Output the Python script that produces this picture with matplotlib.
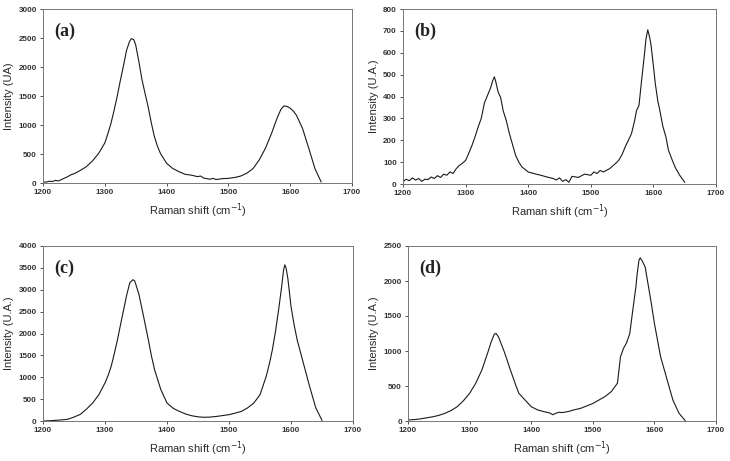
import matplotlib.pyplot as plt

plt.rcParams['font.family'] = ['Liberation Sans', 'DejaVu Sans']

# Raman spectra (x in cm-1, y in arbitrary units)
x_a = [1200, 1205, 1210, 1215, 1220, 1225, 1230, 1240, 1245, 1250, 1255, 1260, 1270,
       1280, 1290, 1300, 1305, 1310, 1315, 1320, 1325, 1330, 1335, 1340, 1343, 1347,
       1350, 1355, 1360, 1365, 1370, 1375, 1380, 1385, 1390, 1400, 1410, 1420, 1430,
       1440, 1450, 1455, 1460, 1470, 1475, 1480, 1490, 1500, 1510, 1520, 1530, 1540,
       1550, 1560, 1570, 1575, 1580, 1585, 1590, 1595, 1600, 1605, 1610, 1620, 1630,
       1640, 1650]
y_a = [20, 15, 30, 25, 45, 35, 60, 110, 140, 160, 185, 215, 280,
       380, 510, 690, 850, 1030, 1250, 1490, 1760, 2010, 2280, 2440, 2490, 2470,
       2380, 2100, 1790, 1550, 1320, 1050, 810, 640, 510, 340, 250, 195, 150,
       135, 110, 120, 85, 65, 80, 60, 75, 80, 95, 120, 170, 250,
       400, 600, 860, 1010, 1150, 1270, 1330, 1320, 1290, 1240, 1170, 940, 600,
       250, 20]

x_b = [1200, 1205, 1210, 1215, 1220, 1225, 1230, 1235, 1240, 1245, 1250, 1255, 1260,
       1265, 1270, 1275, 1280, 1285, 1290, 1295, 1300, 1305, 1310, 1315, 1320, 1325,
       1330, 1335, 1340, 1343, 1346, 1348, 1352, 1356, 1360, 1365, 1370, 1375, 1380,
       1385, 1390, 1400, 1410, 1420, 1430, 1440, 1445, 1450, 1455, 1460, 1465, 1470,
       1480, 1490, 1500, 1505, 1510, 1515, 1520, 1530, 1540, 1545, 1550, 1555, 1560,
       1565, 1570, 1573, 1577, 1581, 1586, 1588, 1591, 1594, 1596, 1600, 1603, 1607,
       1610, 1615, 1620, 1624, 1630, 1635, 1642, 1650]
y_b = [10, 22, 15, 28, 18, 25, 12, 22, 20, 32, 25, 38, 30,
       45, 40, 55, 48, 70, 85, 95, 108, 140, 175, 215, 260, 300,
       370, 405, 440, 470, 490, 470, 420, 395, 335, 290, 230, 180, 130,
       100, 78, 55, 47, 40, 32, 25, 18, 28, 12, 20, 8, 35,
       30, 45, 40, 55, 48, 62, 55, 70, 95, 110, 135, 170, 200,
       230, 290, 335, 360, 470, 600, 660, 705, 670, 640, 540, 460, 380,
       340, 265, 215, 155, 110, 75, 40, 8]

x_c = [1200, 1210, 1220, 1230, 1240, 1250, 1260, 1270, 1280, 1290, 1300, 1305, 1310,
       1315, 1320, 1325, 1330, 1335, 1340, 1345, 1348, 1350, 1355, 1360, 1365, 1370,
       1375, 1380, 1390, 1400, 1410, 1420, 1430, 1440, 1450, 1460, 1470, 1480, 1490,
       1500, 1510, 1520, 1530, 1540, 1550, 1560, 1565, 1570, 1575, 1580, 1585, 1588,
       1590, 1592, 1595, 1600, 1605, 1610, 1620, 1630, 1640, 1650]
y_c = [0, 5, 15, 25, 40, 90, 150, 270, 410, 600, 870, 1040, 1250,
       1540, 1850, 2200, 2540, 2880, 3160, 3230, 3200, 3110, 2880, 2540, 2200, 1850,
       1480, 1170, 720, 410, 290, 220, 160, 120, 95, 85, 90, 105, 125,
       145, 180, 220, 300, 410, 600, 1020, 1300, 1630, 2050, 2540, 3080, 3450,
       3570, 3500, 3250, 2620, 2200, 1850, 1320, 790, 300, 15]

x_d = [1200, 1210, 1220, 1230, 1240, 1250, 1260, 1270, 1280, 1290, 1300, 1310, 1320,
       1325, 1330, 1335, 1340, 1343, 1347, 1350, 1355, 1360, 1365, 1370, 1375, 1380,
       1390, 1400, 1410, 1420, 1430, 1435, 1440, 1445, 1450, 1460, 1470, 1480, 1490,
       1500, 1510, 1520, 1530, 1540, 1545, 1550, 1555, 1560, 1565, 1570, 1572, 1575,
       1577, 1580, 1585, 1590, 1595, 1600, 1610, 1620, 1630, 1640, 1650]
y_d = [15, 20, 30, 45, 60, 80, 110, 150, 205, 290, 395, 540, 730,
       860, 990, 1130, 1240, 1250, 1200, 1130, 1020, 895, 760, 635, 510, 395,
       300, 205, 160, 135, 115, 90, 110, 125, 120, 135, 160, 180, 215,
       250, 300, 350, 420, 540, 920, 1040, 1120, 1250, 1590, 1920, 2100, 2300,
       2330, 2290, 2200, 1940, 1680, 1395, 920, 610, 300, 110, 5]

panels = [
    ('(a)', x_a, y_a, 3000, 500, 'Intensity (UA)', [43, 9, 352, 183]),
    ('(b)', x_b, y_b, 800, 100, 'Intensity (U.A.)', [403, 9, 716, 184]),
    ('(c)', x_c, y_c, 4000, 500, 'Intensity (U.A.)', [43, 246, 353, 421]),
    ('(d)', x_d, y_d, 2500, 500, 'Intensity (U.A.)', [408, 246, 716, 421]),
]

W, H = 730, 461
fig = plt.figure(figsize=(W / 100, H / 100), dpi=100)

for tag, xs, ys, ymax, ystep, ylab, box in panels:
    l, t, r, b = box
    ax = fig.add_axes([l / W, (H - b) / H, (r - l) / W, (b - t) / H])
    ax.plot(xs, ys, color='#1a1a1a', linewidth=0.8)
    ax.set_xlim(1200, 1700)
    ax.set_ylim(0, ymax)
    ax.set_xticks(range(1200, 1701, 100))
    ax.set_yticks(range(0, ymax + 1, ystep))
    ax.tick_params(direction='out', length=2.5, width=0.6, labelsize=5.8,
                   pad=2, colors='#333333')
    for lbl in ax.get_xticklabels() + ax.get_yticklabels():
        lbl.set_fontweight('bold')
    for s in ax.spines.values():
        s.set_color('#777777')
        s.set_linewidth(0.7)
    ax.set_xlabel('Raman shift (cm$^{-1}$)', fontsize=8, color='#2a2a2a', labelpad=4)
    ax.set_ylabel(ylab, fontsize=8, color='#2a2a2a', labelpad=3)
    ax.text(0.035, 0.87, tag, transform=ax.transAxes, ha='left', va='center',
            fontsize=13, fontweight='bold', family='Liberation Serif', color='#222222')

fig.savefig('out.png', dpi=100)
